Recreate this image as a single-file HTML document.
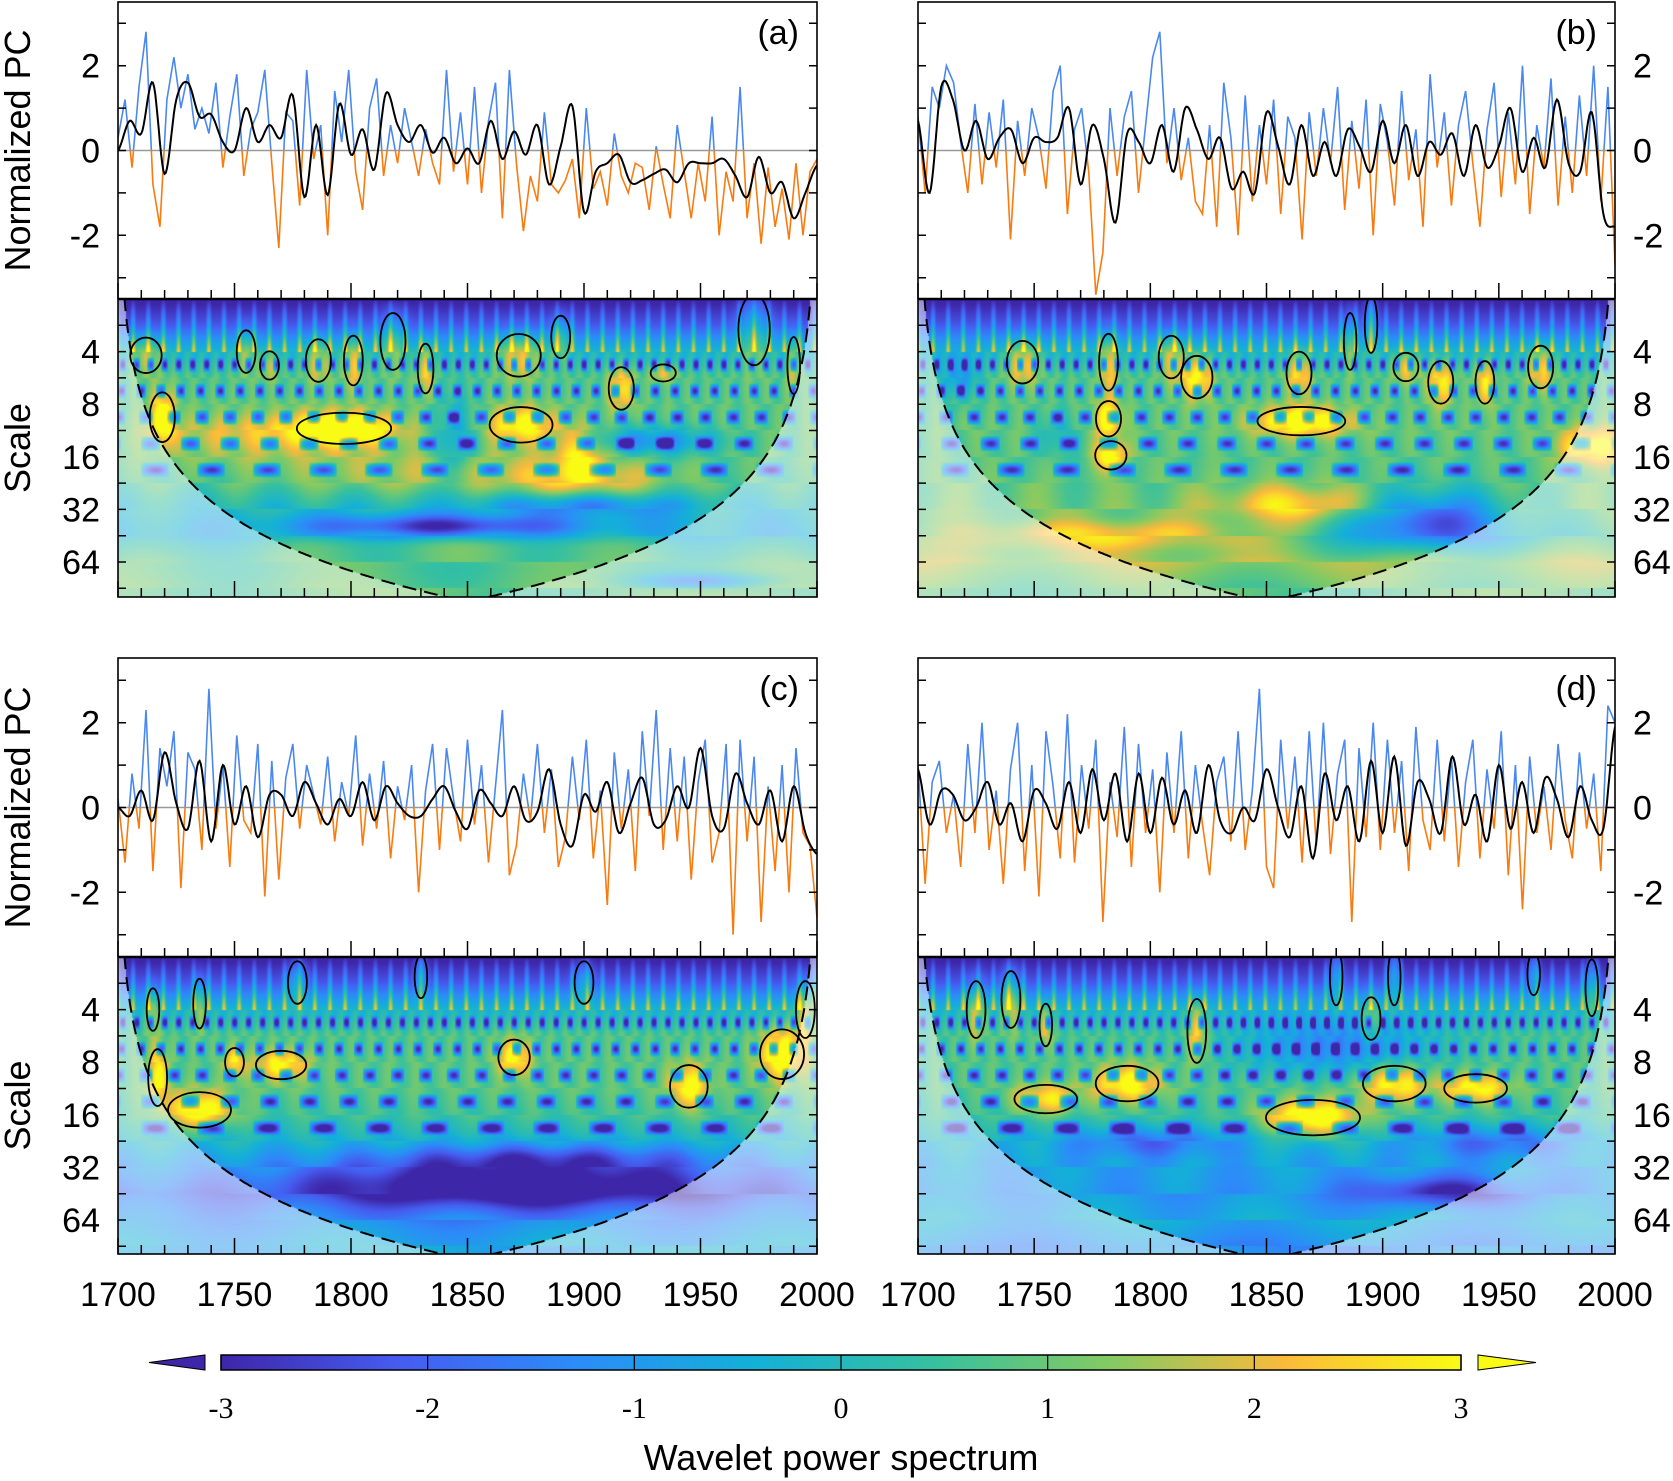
<!DOCTYPE html>
<html><head><meta charset="utf-8">
<style>
html,body{margin:0;padding:0;background:#fff;}
#wrap{position:relative;width:1673px;height:1481px;overflow:hidden;}
canvas{position:absolute;}
svg{position:absolute;left:0;top:0;}
</style></head>
<body>
<div id="wrap">
<canvas id="cva" width="699" height="298" style="left:118px;top:299px"></canvas>
<canvas id="cvb" width="697" height="298" style="left:918px;top:299px"></canvas>
<canvas id="cvc" width="699" height="297" style="left:118px;top:957px"></canvas>
<canvas id="cvd" width="697" height="297" style="left:918px;top:957px"></canvas>
<svg id="svg" width="1673" height="1481" xmlns="http://www.w3.org/2000/svg" font-family="Liberation Sans, sans-serif"></svg>
</div>
<script>
// ---------- data ----------
const smoothA=[0,0.7,0.4,1.6,-0.55,1.2,1.6,0.8,0.85,0.2,0,1.0,0.2,0.6,0.3,1.3,-1.1,0.6,-1.05,1.1,-0.1,0.5,-0.45,1.35,0.6,0.2,0.6,-0.05,0.3,-0.3,0.05,-0.3,0.7,-0.2,0.45,-0.1,0.6,-0.8,0.1,1.05,-1.45,-0.5,-0.3,-0.1,-0.75,-0.7,-0.55,-0.45,-0.75,-0.3,-0.3,-0.3,-0.2,-0.6,-1.1,-0.15,-1.0,-0.75,-1.6,-1.0,-0.35];
const smoothB=[0.7,-1.0,1.5,1.2,0,0.7,-0.2,0.3,0.5,-0.3,0.3,0.2,0.3,1.0,-0.8,0.6,-0.2,-1.7,0.4,0.2,-0.3,0.6,-0.5,1.0,0.5,-0.2,0.3,-0.9,-0.5,-1.0,0.9,0.1,-0.8,0.6,-0.6,0.2,-0.6,0.5,0.1,-0.5,0.7,-0.3,0.6,-0.6,0.2,-0.1,0.4,-0.6,0.6,-0.4,0.1,1.0,-0.5,0.3,-0.4,1.2,-0.3,-0.5,0.9,-1.5,-1.8];
const smoothC=[0,-0.2,0.4,-0.3,1.3,0.1,-0.5,1.1,-0.8,1.0,-0.4,0.5,-0.7,0.3,0.3,-0.2,0.6,0.1,-0.4,0.2,-0.2,0.6,-0.3,0.5,0.1,-0.2,-0.2,0.2,0.5,-0.1,-0.5,0.4,0.1,-0.2,0.5,-0.3,-0.1,0.9,-0.4,-0.9,0.3,-0.1,0.6,-0.6,0.1,0.7,-0.4,-0.3,0.5,0.0,1.4,-0.2,-0.5,0.8,0.1,-0.4,0.4,-0.8,0.5,-0.6,-1.1];
const smoothD=[0.9,-0.4,0.4,0.3,-0.3,0.0,0.6,-0.4,0.1,-0.8,0.4,0.1,-0.5,0.6,-0.6,0.9,-0.3,0.8,-0.8,0.8,-0.6,0.7,-0.4,0.4,-0.6,1.0,-0.3,-0.6,0.0,-0.3,0.9,0.0,-0.7,0.5,-1.2,0.8,-0.3,0.5,-0.8,1.1,-0.6,1.2,-0.9,0.6,0.2,-0.6,1.2,-0.4,0.3,-0.8,1.0,-0.5,0.6,-0.6,0.7,0.2,-0.7,0.5,-0.3,-0.5,1.9];
const rawA=[0.3,1.2,-0.4,1.5,2.8,-0.8,-1.8,1.2,2.2,1.0,1.8,0.5,1.0,0.4,1.6,-0.4,0.8,1.8,-0.6,0.5,0.9,1.9,-0.3,-2.3,0.9,0.7,-1.3,1.9,-0.2,0.6,-2.0,1.4,0.2,1.9,-0.5,-1.4,1.0,1.7,-0.6,0.6,-0.3,1.0,0.2,-0.6,0.5,-0.3,-0.8,1.9,-0.5,0.9,-0.8,1.5,-1.0,0.7,1.6,-1.6,1.9,-0.3,-1.9,-0.6,-1.2,0.9,-0.8,-1.0,-0.7,-0.2,-1.6,1.0,-0.9,-0.5,-1.3,0.4,-0.6,-1.0,-0.3,-0.4,-1.4,0.1,-0.8,-1.6,0.6,-0.5,-1.6,-0.3,-1.2,0.8,-2.0,-0.5,-1.2,1.5,-1.6,-0.3,-2.2,-0.4,-1.8,-0.9,-2.1,-0.3,-2.0,-0.5,-0.2];
const rawB=[0.8,-1.0,1.5,1.0,2.0,1.6,0.2,-1.0,1.1,-0.8,0.9,-0.4,1.2,-2.1,0.7,-0.6,1.0,0.3,-0.9,1.4,2.0,-1.5,0.5,1.0,-0.5,-3.4,-2.4,1.0,-0.6,0.8,1.4,-1.0,0.6,2.2,2.8,-0.3,1.0,-0.7,0.3,-1.2,-1.5,0.6,-1.8,1.6,0.3,-2.0,1.3,-1.2,0.6,-0.8,1.2,-1.5,0.8,0.3,-2.1,0.9,-0.6,1.0,-0.3,1.5,-1.4,0.7,-0.9,1.2,-2.0,1.1,0.2,-1.3,1.4,-0.7,0.5,-1.8,1.8,-0.4,0.9,-1.3,0.6,1.4,-0.3,-1.8,0.5,1.6,-1.1,0.9,-0.8,2.0,-1.5,0.6,-0.4,1.7,-1.3,0.8,-1.0,1.3,-0.6,2.0,-1.2,1.5,-2.7];
const rawC=[0.2,-1.3,0.8,-0.5,2.3,-1.5,1.4,0.5,1.8,-1.9,1.3,0.9,-1.0,2.8,-0.5,1.0,-1.4,1.7,-0.3,-0.6,1.5,-2.1,1.1,-1.7,0.7,1.5,-0.5,1.0,0.3,-0.4,1.2,-0.8,0.6,-0.2,1.7,-0.9,0.8,-0.5,1.1,-1.2,0.5,-0.3,1.0,-2.0,0.4,1.5,-1.0,1.4,0.2,-0.8,1.6,-0.4,1.0,-1.3,0.5,2.3,-1.6,-0.9,0.8,-0.3,1.5,-0.6,0.9,-1.4,-0.7,1.2,-0.3,1.6,-1.2,0.4,-2.3,1.3,-0.5,0.9,-1.5,1.8,-0.2,2.3,-1.0,1.4,-0.8,1.2,-1.7,0.6,1.6,-1.3,-0.6,1.5,-3.0,1.6,-0.8,1.2,-2.7,0.5,-1.5,1.0,-2.0,1.4,-0.6,-0.9,-2.6];
const rawD=[1.0,-1.8,0.6,1.1,-0.6,0.3,-1.4,1.5,-0.6,2.0,-1.0,0.4,-1.8,0.9,2.0,-1.5,1.0,-2.1,1.8,0.5,-1.2,2.2,-1.3,1.0,-0.5,1.6,-2.7,0.6,-0.7,1.9,-1.4,1.5,-0.6,0.9,-2.0,1.3,-0.6,1.8,-1.2,1.0,-0.4,-1.6,0.6,1.2,-0.8,1.8,-1.0,0.4,2.8,-1.4,-1.9,1.6,-0.5,1.2,-1.3,1.8,-0.9,2.0,-1.1,0.8,1.6,-2.7,1.4,-0.7,2.0,-1.0,1.6,-0.6,1.1,-1.5,1.9,-0.3,-1.0,1.6,-0.8,1.2,-1.4,0.6,1.6,-1.2,0.9,-0.5,1.8,-1.6,1.0,-2.4,1.2,-0.6,0.5,-1.0,1.5,-0.3,-1.2,1.3,-0.5,0.8,-1.5,2.4,2.0];
// base log-power per half-octave row (scale 2 .. 128)
const baseA=[-3.2,-2.2,-0.2,0.7,0.8,0.9,0.8,0.5,-0.1,-0.7,0.6,0.9,0.6];
const baseB=[-3.2,-2.2,-0.2,0.7,0.8,0.9,0.8,0.9,1.0,0.4,1.5,0.9,0.6];
const baseC=[-3.2,-2.2,-0.2,0.7,0.8,0.8,0.5,-0.2,-1.0,-1.8,-1.2,-0.6,-1.0];
const baseD=[-3.2,-2.2,-0.2,0.6,0.7,0.7,0.4,-0.3,-0.8,-1.0,-0.6,-1.2,-1.0];
// blobs: [year, scale, amplitude, sigmaYears, sigmaOctaves, significant]
const blobsA=[[1719,9.5,2.6,4,0.35,1],[1797,11,3.2,15,0.22,1],[1873,10.5,2.4,10,0.25,1],[1898,15,1.8,8,0.35,0],[1916,6.5,2,4,0.3,1],[1712,4.2,1.6,5,0.25,1],[1755,4,1.5,3,0.3,1],[1765,4.8,1.3,3,0.2,1],[1786,4.5,1.7,4,0.3,1],[1801,4.5,2,3,0.35,1],[1818,3.5,1.6,4,0.4,1],[1832,5,1.8,2.5,0.35,1],[1872,4.2,2.1,7,0.3,1],[1890,3.3,1.5,3,0.3,1],[1934,5.3,1.4,4,0.12,1],[1973,3.0,1.7,5,0.5,1],[1990,4.8,1.4,2,0.4,1],[1760,12,1.2,30,0.3,0],[1840,20,1.0,60,0.3,0],[1850,50,1.0,80,0.2,0],[1900,22,1.2,25,0.25,0],[1840,40,-2.5,40,0.15,0],[1930,13,-2.0,20,0.2,0],[1900,30,-1.5,30,0.15,0],[1845,13,-1.5,6,0.6,0],[1950,82,-2,20,0.1,0]];
const blobsB=[[1865,10,2.8,14,0.2,1],[1782,9.7,2.5,4,0.25,1],[1783,15.7,2.5,5,0.2,1],[1990,14,2.5,10,0.25,0],[1780,45,2,50,0.2,0],[1865,30,1.8,25,0.25,0],[1920,37,-3,25,0.4,0],[1745,4.6,2,5,0.3,1],[1782,4.6,2,3,0.4,1],[1809,4.3,1.8,4,0.3,1],[1820,5.6,2.4,5,0.3,1],[1864,5.3,2,4,0.3,1],[1886,3.5,1.5,2,0.4,1],[1895,2.8,1.5,2,0.4,1],[1910,4.9,1.8,4,0.2,1],[1925,6,2.2,4,0.3,1],[1944,6,2,3,0.3,1],[1968,4.9,2,4,0.3,1],[1718,5.6,-1.5,6,0.3,0],[1760,12,-1.0,6,0.3,0]];
const blobsC=[[1735,15,2.8,10,0.25,1],[1717,9.8,2.4,3,0.4,1],[1750,8,2,3,0.2,1],[1770,8.3,2.3,8,0.2,1],[1870,7.5,2.4,5,0.25,1],[1945,11,2.4,6,0.3,1],[1985,7.2,2.8,7,0.35,1],[1995,4,2,3,0.4,1],[1715,4,1.6,2,0.3,1],[1735,3.7,1.6,2,0.35,1],[1777,2.8,1.6,3,0.3,1],[1830,2.6,1.4,2,0.3,1],[1900,2.8,1.4,3,0.3,1],[1870,40,-2.5,60,0.3,0],[1880,28,-1.5,50,0.2,0]];
const blobsD=[[1790,10.6,2.6,10,0.25,1],[1755,13,2.2,10,0.2,1],[1870,16.6,3.2,15,0.25,1],[1905,10.6,2.6,10,0.25,1],[1940,11.3,2.5,10,0.2,1],[1725,4,1.8,3,0.4,1],[1740,3.5,2.2,3,0.4,1],[1755,4.9,1.6,2,0.3,1],[1820,5.3,2.0,3,0.45,1],[1880,2.6,1.5,2,0.4,1],[1895,4.5,1.6,3,0.3,1],[1905,2.6,1.6,2,0.4,1],[1965,2.5,1.4,2,0.3,1],[1990,3,1.6,2,0.4,1],[1880,6.5,-2,30,0.4,0],[1800,23,-1.5,25,0.2,0],[1950,23,-1.5,25,0.2,0],[1925,44,-2,25,0.2,0]];
const tsTicks=[-3,-2,-1,0,1,2,3];
const tsLabels=[-2,0,2];
const scaleLabels=[4,8,16,32,64];
const yearLabels=[1700,1750,1800,1850,1900,1950,2000];
const cbarTicks=[-3,-2,-1,0,1,2,3];

// ---------- layout ----------
const NS="http://www.w3.org/2000/svg";
const svg=document.getElementById('svg');
const UNIT=42.4, OCT=52.6;
const panels=[
 {id:'a',x0:118,x1:817,top:2,mid:299,bot:597,right:false,raw:rawA,sm:smoothA,base:baseA,blobs:blobsA,cv:'cva'},
 {id:'b',x0:918,x1:1615,top:2,mid:299,bot:597,right:true,raw:rawB,sm:smoothB,base:baseB,blobs:blobsB,cv:'cvb'},
 {id:'c',x0:118,x1:817,top:658,mid:957,bot:1254,right:false,raw:rawC,sm:smoothC,base:baseC,blobs:blobsC,cv:'cvc'},
 {id:'d',x0:918,x1:1615,top:658,mid:957,bot:1254,right:true,raw:rawD,sm:smoothD,base:baseD,blobs:blobsD,cv:'cvd'}];
function el(tag,attrs,parent){const e=document.createElementNS(NS,tag);for(const k in attrs)e.setAttribute(k,attrs[k]);(parent||svg).appendChild(e);return e;}
const parula=[[62,38,168],[70,92,240],[44,140,248],[20,176,216],[54,192,160],[130,202,100],[250,186,60],[249,251,20]];
function cmap(v){let t=(v+3)/6;t=Math.max(0,Math.min(1,t))*(parula.length-1);const i=Math.min(parula.length-2,Math.floor(t)),f=t-i;const a=parula[i],b=parula[i+1];return [a[0]+(b[0]-a[0])*f,a[1]+(b[1]-a[1])*f,a[2]+(b[2]-a[2])*f];}
function coi(yr){return 0.72*Math.max(0.01,Math.min(yr-1700,2000-yr));}
// visual texture of the wavelet field (fingers at small scales, dots at mid scales), banded per half-octave
function tex(yr,oct){const kb=Math.floor(oct*2)/2;const s=Math.pow(2,kb);const P=Math.max(6,1.5*s);
 const ph=2*Math.PI*(yr-1700)/P+kb*2.1;
 if(oct<2.0){const c=Math.max(0,Math.cos(2*Math.PI*(yr-1700)/6.5));return 2.4*c*c*(oct-0.9);}
 if(oct<4.5){const c1=Math.max(0,Math.cos(ph));const c2=Math.max(0,Math.cos(2*Math.PI*(oct-kb-0.25)/0.6));return -3.6*Math.sqrt(c1)*c2+0.3*Math.cos(ph+2);}
 return 0.4*Math.cos(ph);}

panels.forEach(p=>{
 const W=p.x1-p.x0, ppy=W/300;
 const xs=yr=>p.x0+(yr-1700)*ppy;
 const tsZero=(p.top+p.mid)/2;
 const ys=v=>tsZero-v*UNIT;
 const yo=oct=>p.mid+(oct-1)*OCT;
 const g=el('g',{});
 
 
 // ---- heatmap ----
 const cv=document.getElementById(p.cv);const ctx=cv.getContext('2d');
 const w=cv.width,h=cv.height;const img=ctx.createImageData(w,h);
 for(let py=0;py<h;py++){const oct=1+(py+0.5)/OCT;const bi=(oct-1)/0.5;const i0=Math.min(p.base.length-2,Math.floor(bi));const bf=bi-i0;const bv=p.base[i0]*(1-bf)+p.base[i0+1]*bf;const per=Math.pow(2,oct);
  for(let px=0;px<w;px++){const yr=1700+(px+0.5)/ppy;let v=bv+tex(yr,oct);
   for(const b of p.blobs){const dx=(yr-b[0])/b[3];if(dx>4||dx<-4)continue;const dy=(oct-Math.log2(b[1]))/b[4];v+=b[2]*Math.exp(-0.5*(dx*dx+dy*dy));}
   let c=cmap(v);if(per>coi(yr)){c=[c[0]*0.5+127,c[1]*0.5+127,c[2]*0.5+127];}
   const k=(py*w+px)*4;img.data[k]=c[0];img.data[k+1]=c[1];img.data[k+2]=c[2];img.data[k+3]=255;}}
 ctx.putImageData(img,0,0);
 const cid='clip'+p.id;const cp=el('clipPath',{id:cid},g);el('rect',{x:p.x0,y:p.mid,width:W,height:p.bot-p.mid},cp);
 const tcid='tclip'+p.id;const tcp=el('clipPath',{id:tcid},g);el('rect',{x:p.x0,y:p.top,width:W,height:p.mid-p.top},tcp);
 const upc='up'+p.id, dnc='dn'+p.id;
 el('rect',{x:p.x0,y:p.top,width:W,height:tsZero-p.top},el('clipPath',{id:upc},g));
 el('rect',{x:p.x0,y:tsZero,width:W,height:p.mid-tsZero},el('clipPath',{id:dnc},g));
 const cg=el('g',{'clip-path':`url(#${cid})`},g);
 p.blobs.forEach(b=>{if(!b[5])return;const e=el('ellipse',{cx:xs(b[0]),cy:yo(Math.log2(b[1])),rx:b[3]*1.35*ppy,ry:b[4]*1.35*OCT,fill:'none',stroke:'#000','stroke-width':1.8},cg);
  
  });
 let d='';for(let yr=1700.2;yr<=1999.8;yr+=0.5){const c=coi(yr);const y=yo(Math.log2(c));d+=(d?'L':'M')+xs(yr).toFixed(1)+','+y.toFixed(1);}
 const coiPath=el('path',{d:d,fill:'none',stroke:'#000','stroke-width':2,'stroke-dasharray':'14,8','clip-path':`url(#${cid})`},g);
 
 
 // ---- time series ----
 const n=p.raw.length;let rd='';p.raw.forEach((v,i)=>{const yr=1700+i*300/(n-1);rd+=(i?'L':'M')+xs(yr).toFixed(1)+','+ys(v).toFixed(1);});
 const rb=el('path',{d:rd,fill:'none',stroke:'#4a88f0','stroke-width':1.6,'clip-path':`url(#${upc})`},g);
 
 
 el('line',{x1:p.x0,x2:p.x1,y1:tsZero,y2:tsZero,stroke:'#999','stroke-width':1.5},g);
 const ro=el('path',{d:rd,fill:'none',stroke:'#f87b10','stroke-width':1.6,'clip-path':`url(#${dnc})`},g);
 
 
 const m=p.sm.length, st=300/(m-1);let sd='';
 for(let yr=1700;yr<=2000;yr+=0.5){const t=(yr-1700)/st;const i=Math.min(m-2,Math.floor(t)),f=t-i;const P0=p.sm[Math.max(0,i-1)],P1=p.sm[i],P2=p.sm[i+1],P3=p.sm[Math.min(m-1,i+2)];
  const v=0.5*((2*P1)+(-P0+P2)*f+(2*P0-5*P1+4*P2-P3)*f*f+(-P0+3*P1-3*P2+P3)*f*f*f);sd+=(sd?'L':'M')+xs(yr).toFixed(1)+','+ys(v).toFixed(1);}
 const sl=el('path',{d:sd,fill:'none',stroke:'#000','stroke-width':2,'clip-path':`url(#${tcid})`},g);
 
 
 // ---- frames & ticks ----
 el('rect',{x:p.x0,y:p.top,width:W,height:p.bot-p.top,fill:'none',stroke:'#000','stroke-width':1.6},g);
 el('line',{x1:p.x0,x2:p.x1,y1:p.mid,y2:p.mid,stroke:'#000','stroke-width':2.4},g);
 let tk='';
 tsTicks.forEach(v=>{const y=ys(v);tk+=`M${p.x0},${y}h8M${p.x1},${y}h-8`;});
 for(let o=1.5;o<=6.6;o+=0.5){const y=yo(o);tk+=`M${p.x0},${y}h8M${p.x1},${y}h-8`;}
 for(let yr=1700;yr<=2000;yr+=10){const x=xs(yr);const L=(yr%50===0)?16:9;tk+=`M${x},${p.mid}v${-L}M${x},${p.bot}v${-L}`;}
 el('path',{d:tk,stroke:'#000','stroke-width':1.5,fill:'none'},g);
 const lx=p.right?p.x1+18:p.x0-18, anc=p.right?'start':'end';
 tsLabels.forEach(v=>{const t=el('text',{x:lx,y:ys(v)+12,'font-size':34,'text-anchor':anc},g);t.textContent=v;
  
  });
 scaleLabels.forEach(s=>{const t=el('text',{x:lx,y:yo(Math.log2(s))+12,'font-size':34,'text-anchor':anc},g);t.textContent=s;
  
  });
 const pl=el('text',{x:p.x1-18,y:p.top+42,'font-size':34,'text-anchor':'end'},g);pl.textContent='('+p.id+')';
 
 
 if(!p.right){
  const t1=el('text',{x:0,y:0,'font-size':36,'text-anchor':'middle',transform:`translate(30,${(p.top+p.mid)/2}) rotate(-90)`},g);t1.textContent='Normalized PC';
  
  
  const t2=el('text',{x:0,y:0,'font-size':36,'text-anchor':'middle',transform:`translate(30,${(p.mid+p.bot)/2}) rotate(-90)`},g);t2.textContent='Scale';
  
  
 }
 if(p.id==='c'||p.id==='d'){yearLabels.forEach(yr=>{const t=el('text',{x:xs(yr),y:1306,'font-size':34,'text-anchor':'middle'},g);t.textContent=yr;
  
  });}
});

// ---------- colorbar ----------
const cb=el('g',{});


const cx0=221,cx1=1461,cy0=1355,cy1=1370;
const grad=el('linearGradient',{id:'cbg',x1:0,x2:1,y1:0,y2:0},el('defs',{},cb));
parula.forEach((c,i)=>el('stop',{offset:i/(parula.length-1),'stop-color':`rgb(${c.map(Math.round).join(',')})`},grad));
el('rect',{x:cx0,y:cy0,width:cx1-cx0,height:cy1-cy0,fill:'url(#cbg)',stroke:'#000','stroke-width':1.5},cb);
el('polygon',{points:`149,1362.5 205,${cy0} 205,${cy1}`,fill:'rgb(62,38,168)',stroke:'#000','stroke-width':1},cb);
el('polygon',{points:`1536,1362.5 1478,${cy0} 1478,${cy1}`,fill:'rgb(249,251,20)',stroke:'#000','stroke-width':1},cb);
cbarTicks.forEach(v=>{const x=cx0+(v+3)/6*(cx1-cx0);el('line',{x1:x,x2:x,y1:cy0,y2:cy1,stroke:'#000','stroke-width':1.2},cb);
 const t=el('text',{x:x,y:1418,'font-size':30,'text-anchor':'middle',style:'font-family:"Liberation Serif",serif'},cb);t.textContent=v;
 
 });
const ct=el('text',{x:841,y:1470,'font-size':36,'text-anchor':'middle'},cb);ct.textContent='Wavelet power spectrum';


</script>
</body></html>
